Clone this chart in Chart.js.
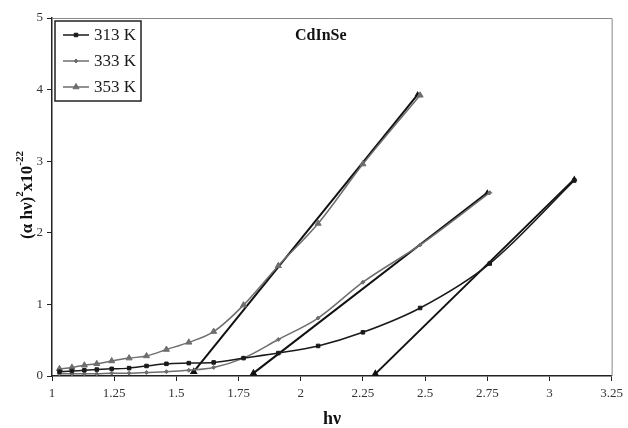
<!DOCTYPE html>
<html>
<head>
<meta charset="utf-8">
<script src="https://cdn.jsdelivr.net/npm/chart.js@4.4.1/dist/chart.umd.min.js"></script>
<style>
html,body{margin:0;padding:0;background:#fff;}
#wrap{width:628px;height:428px;position:relative;}
</style>
</head>
<body>
<div id="wrap"><canvas id="c" width="628" height="428"></canvas></div>
<script>
// ---- data ----
const hv = [1.03, 1.08, 1.13, 1.18, 1.24, 1.31, 1.38, 1.46, 1.55, 1.65, 1.77, 1.91, 2.07, 2.25, 2.48, 2.76, 3.10];
const k313 = [0.06, 0.07, 0.08, 0.09, 0.10, 0.11, 0.14, 0.17, 0.18, 0.19, 0.25, 0.32, 0.42, 0.61, 0.95, 1.57, 2.73];
const k333 = [0.03, 0.03, 0.03, 0.03, 0.04, 0.04, 0.05, 0.06, 0.08, 0.12, 0.25, 0.51, 0.81, 1.31, 1.83, 2.56];
const k353 = [0.10, 0.12, 0.15, 0.17, 0.21, 0.25, 0.28, 0.37, 0.47, 0.62, 0.99, 1.54, 2.13, 2.96, 3.92];
const fit313x = [2.30, 3.10], fit313y = [0.03, 2.75];
const fit333x = [1.81, 2.75], fit333y = [0.04, 2.56];
const fit353x = [1.57, 2.47], fit353y = [0.06, 3.93];
const seriesNames = ['313 K', '333 K', '353 K'];
const xTicks = [1, 1.25, 1.5, 1.75, 2, 2.25, 2.5, 2.75, 3, 3.25];
const yTicks = [0, 1, 2, 3, 4, 5];
const chartTitle = 'CdInSe';

const pts = (xs, ys) => ys.map((y, i) => ({x: xs[i], y: y}));
const SERIF = '"Liberation Serif", "Times New Roman", serif';

const styles = [
  {color: '#1a1a1a', point: 'rect', r: 2.5},
  {color: '#6e6e6e', point: 'rectRot', r: 2},
  {color: '#6e6e6e', point: 'triangle', r: 3.5}
];

function dataDs(i, data) {
  const s = styles[i];
  return {label: seriesNames[i], data: data, showLine: true, cubicInterpolationMode: 'monotone',
    borderColor: s.color, backgroundColor: s.color, borderWidth: 1.5,
    pointStyle: s.point, pointRadius: s.r, pointBorderWidth: 1, pointHoverRadius: s.r};
}
function fitDs(data) {
  return {label: 'fit', data: data, showLine: true, tension: 0,
    borderColor: '#111', backgroundColor: '#111', borderWidth: 2,
    pointStyle: 'triangle', pointRadius: [2.5, 1.5], pointHoverRadius: 2.5};
}

const frame = {
  id: 'frame',
  afterDraw(chart) {
    const ctx = chart.ctx, a = chart.chartArea;
    ctx.save();
    ctx.strokeStyle = '#888'; ctx.lineWidth = 1;
    ctx.beginPath();
    ctx.moveTo(a.left, a.top + 0.5); ctx.lineTo(a.right + 0.5, a.top + 0.5); ctx.lineTo(a.right + 0.5, a.bottom);
    ctx.stroke();
    ctx.fillStyle = '#111';
    ctx.font = 'bold 16px ' + SERIF;
    ctx.textAlign = 'left'; ctx.textBaseline = 'middle';
    ctx.fillText(chartTitle, 295, 36);
    ctx.font = 'bold 18px ' + SERIF;
    ctx.textAlign = 'center';
    ctx.fillText('hν', 332, 419);
    ctx.translate(32, 195);
    ctx.rotate(-Math.PI / 2);
    const parts = [['(α hν)', 0], ['2', 1], ['x10', 0], ['-22', 1]];
    const fnt = p => (p[1] ? 'bold 11px ' : 'bold 17px ') + SERIF;
    let total = 0;
    parts.forEach(p => { ctx.font = fnt(p); total += ctx.measureText(p[0]).width; });
    let x = -total / 2;
    ctx.textAlign = 'left'; ctx.textBaseline = 'alphabetic';
    parts.forEach(p => {
      ctx.font = fnt(p);
      ctx.fillText(p[0], x, p[1] ? -9 : 0);
      x += ctx.measureText(p[0]).width;
    });
    ctx.restore();
    ctx.save();
    const lx = 55, ly = 21, lw = 86, lh = 80;
    ctx.fillStyle = '#fff'; ctx.fillRect(lx, ly, lw, lh);
    ctx.strokeStyle = '#222'; ctx.lineWidth = 1.5; ctx.strokeRect(lx, ly, lw, lh);
    const rows = [35, 61, 87];
    ctx.font = '17px ' + SERIF; ctx.textBaseline = 'middle'; ctx.textAlign = 'left';
    rows.forEach((yy, i) => {
      const s = styles[i];
      ctx.strokeStyle = s.color; ctx.fillStyle = s.color; ctx.lineWidth = 1.5;
      ctx.beginPath(); ctx.moveTo(63, yy); ctx.lineTo(89, yy); ctx.stroke();
      ctx.lineWidth = 1;
      Chart.helpers.drawPoint(ctx, {pointStyle: s.point, radius: s.r, rotation: 0, borderWidth: 1}, 76, yy);
      ctx.fillStyle = '#1a1a1a';
      ctx.fillText(seriesNames[i], 94, yy + 1);
    });
    ctx.restore();
  }
};

new Chart(document.getElementById('c'), {
  type: 'scatter',
  data: {
    datasets: [
      dataDs(0, pts(hv, k313)),
      dataDs(1, pts(hv, k333)),
      dataDs(2, pts(hv, k353)),
      fitDs(pts(fit313x, fit313y)),
      fitDs(pts(fit333x, fit333y)),
      fitDs(pts(fit353x, fit353y))
    ]
  },
  options: {
    responsive: false,
    animation: false,
    events: [],
    layout: {padding: {left: 0, right: 13, top: 18, bottom: 0}},
    plugins: {legend: {display: false}, tooltip: {enabled: false}, title: {display: false}},
    scales: {
      x: {
        type: 'linear', min: 1, max: 3.25,
        afterBuildTicks: s => { s.ticks = xTicks.map(v => ({value: v})); },
        afterFit: s => { s.height = 52; },
        ticks: {color: '#333', font: {family: SERIF, size: 13}, padding: 5,
          callback: v => String(v)},
        grid: {drawOnChartArea: false, drawTicks: true, tickLength: 5, color: '#222', lineWidth: 1},
        border: {display: true, color: '#222', width: 1.5}
      },
      y: {
        type: 'linear', min: 0, max: 5,
        afterBuildTicks: s => { s.ticks = yTicks.map(v => ({value: v})); },
        afterFit: s => { s.width = 52; },
        ticks: {color: '#333', font: {family: SERIF, size: 13}, padding: 4,
          callback: v => String(v)},
        grid: {drawOnChartArea: false, drawTicks: true, tickLength: 5, color: '#222', lineWidth: 1},
        border: {display: true, color: '#222', width: 1.5}
      }
    }
  },
  plugins: [frame]
});
</script>
</body>
</html>
